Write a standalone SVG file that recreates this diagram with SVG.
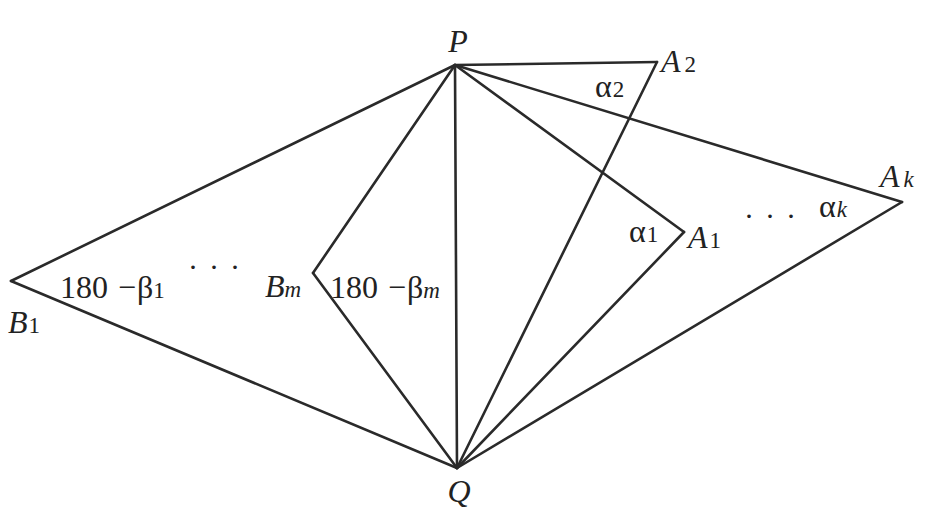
<svg xmlns="http://www.w3.org/2000/svg" width="931" height="525" viewBox="0 0 931 525">
<style>
.l{stroke:#2a2a2a;stroke-width:2.6;fill:none;stroke-linecap:round}
.pt{font-family:"Liberation Serif",serif;font-style:italic;font-size:32px;fill:#222}
.an{font-family:"Liberation Serif",serif;font-size:32px;fill:#222}
.sub{font-size:23px;font-style:normal}
.it{font-style:italic}
.dots{font-family:"Liberation Serif",serif;font-size:30px;fill:#222;letter-spacing:11px}
</style>
<rect width="931" height="525" fill="#fff"/>
<g id="connectors">
<line class="l" x1="455" y1="65" x2="11" y2="281"/>
<line class="l" x1="11" y1="281" x2="457" y2="468"/>
<line class="l" x1="455" y1="65" x2="313" y2="273"/>
<line class="l" x1="313" y1="273" x2="457" y2="468"/>
<line class="l" x1="455" y1="65" x2="457" y2="468"/>
<line class="l" x1="455" y1="65" x2="657" y2="62"/>
<line class="l" x1="657" y1="62" x2="457" y2="468"/>
<line class="l" x1="455" y1="65" x2="902" y2="202"/>
<line class="l" x1="902" y1="202" x2="457" y2="468"/>
<line class="l" x1="455" y1="65" x2="684" y2="232"/>
<line class="l" x1="684" y1="232" x2="457" y2="468"/>
</g>
<g id="P"><text class="pt" x="458" y="52" text-anchor="middle">P</text></g>
<g id="Q"><text class="pt" x="459" y="502" text-anchor="middle">Q</text></g>
<g id="A2"><text class="pt" x="661" y="72">A<tspan class="sub" dx="4">2</tspan></text><text class="an" x="595" y="97">α<tspan class="sub" dx="1">2</tspan></text></g>
<g id="Ak"><text class="pt" x="880" y="187">A<tspan class="sub it" dx="4">k</tspan></text><text class="an" x="819" y="217">α<tspan class="sub it" dx="1">k</tspan></text></g>
<g id="A1"><text class="pt" x="688" y="248">A<tspan class="sub" dx="2">1</tspan></text><text class="an" x="629" y="242">α<tspan class="sub" dx="1">1</tspan></text><text class="dots" x="744" y="226">···</text></g>
<g id="B1"><text class="pt" x="8" y="333">B<tspan class="sub" dx="1">1</tspan></text><text class="an" x="60" y="298">180 <tspan dx="2">−</tspan><tspan dx="1">β</tspan><tspan class="sub">1</tspan></text><text class="dots" x="188" y="277">···</text></g>
<g id="Bm"><text class="pt" x="265" y="297">B<tspan class="sub it">m</tspan></text><text class="an" x="330" y="298">180 <tspan dx="2">−</tspan><tspan dx="1">β</tspan><tspan class="sub it">m</tspan></text></g>
</svg>
